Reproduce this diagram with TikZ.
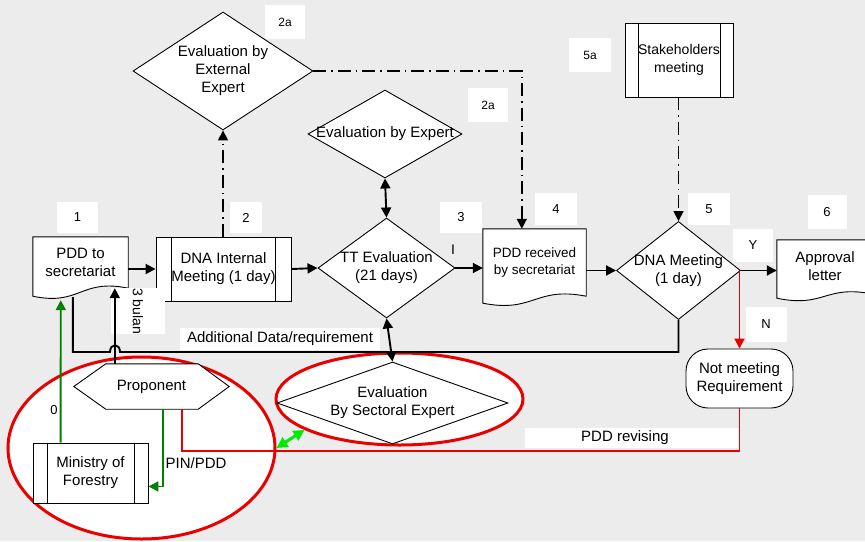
\documentclass[tikz,border=0pt]{standalone}
\usepackage{fontspec}
\setmainfont{Liberation Sans}
\usetikzlibrary{shapes.geometric,arrows.meta,calc,backgrounds}
\definecolor{bgc}{RGB}{236,236,236}
\definecolor{limec}{RGB}{0,235,0}
\definecolor{dgreen}{RGB}{0,128,0}
\definecolor{redc}{RGB}{235,0,0}
\newcommand\docoutline[3]{%
\draw[fill=white, line width=0.9pt] (#1.north west) -- (#1.north east) -- ($(#1.south east)+(0,#2)$)
 .. controls ($(#1.south)+(0,{#2-10})$) and ($(#1.south)+(0,{#3+10})$) .. ($(#1.south west)+(0,#3)$) -- cycle;}
\newcommand\hexoutline[1]{%
\draw[fill=white,line width=0.9pt] (#1.west) -- ($(#1.north west)+(32,0)$) -- ($(#1.north east)+(-31,0)$) -- (#1.east)
 -- ($(#1.south east)+(-31,0)$) -- ($(#1.south west)+(32,0)$) -- cycle;}
\newcommand\proclines[2]{%
\draw[line width=0.9pt] ($(#1.north west)+(#2,0)$) -- ($(#1.south west)+(#2,0)$)
 ($(#1.north east)+(-#2,0)$) -- ($(#1.south east)+(-#2,0)$);}
\begin{document}
\begin{tikzpicture}[x=1pt,y=-1pt,
  every node/.style={font=\fontsize{15}{18}\selectfont, align=center},
  proc/.style={draw, fill=white, line width=0.9pt, rectangle, inner sep=0pt},
  docn/.style={rectangle, inner sep=0pt},
  dia/.style={draw, fill=white, diamond, line width=0.9pt, inner sep=0pt},
  numlab/.style={fill=white, inner sep=0pt, font=\fontsize{13}{15}\selectfont},
  smalllab/.style={fill=white, inner sep=0pt, font=\fontsize{12}{14}\selectfont},
  conn/.style={line width=1.9pt, -{Triangle[length=10pt,width=10pt]}},
  dconn/.style={line width=1.9pt, {Triangle[length=10pt,width=10pt]}-{Triangle[length=10pt,width=10pt]}},
  dashconn/.style={line width=1.6pt, dash pattern=on 13pt off 5pt on 1.5pt off 5pt, -{Triangle[length=10pt,width=10pt]}},
  redconn/.style={line width=1.9pt, draw=redc, -{Triangle[length=10pt,width=10pt]}},
  redline/.style={line width=1.9pt, draw=redc},
  greenconn/.style={line width=1.9pt, draw=dgreen, -{Triangle[length=10pt,width=10pt]}},
  ring/.style={ellipse, draw=redc, line width=3pt, fill=white, inner sep=0pt}
]
\useasboundingbox (0,0) rectangle (865,541);

% main nodes
\node[docn, minimum width=95pt, minimum height=51pt] (pdd) at (80.5,262.5) {PDD to\\secretariat};
\node[proc, minimum width=135pt, minimum height=64pt] (dna) at (223.5,269) {DNA Internal\\Meeting (1 day)};
\node[dia, minimum width=137pt, minimum height=100pt, label=center:{TT Evaluation\\(21 days)}] (tt) at (386.5,268) {};
\node[docn, minimum width=103pt, minimum height=67pt, font=\fontsize{13.5}{17}\selectfont] (pddr) at (534.5,262.5) {PDD received\\by secretariat};
\node[dia, minimum width=124pt, minimum height=98pt, label=center:{DNA Meeting\\(1 day)}] (dnam) at (678.5,270.5) {};
\node[docn, minimum width=96pt, minimum height=52pt] (appr) at (825,266) {Approval\\letter};
\node[draw, fill=white, line width=0.9pt, rounded corners=22pt, minimum width=107pt, minimum height=59pt, inner sep=0pt] (nm) at (739.5,378.5) {Not meeting\\Requirement};
\node[dia, minimum width=180pt, minimum height=118pt, label=center:{Evaluation by\\External\\Expert}] (ext) at (223,71) {};
\node[dia, minimum width=154pt, minimum height=88pt, label=center:{Evaluation by Expert}] (ex) at (385,134) {};
\node[proc, minimum width=108pt, minimum height=74pt, font=\fontsize{14}{18}\selectfont] (stk) at (679,60) {Stakeholders\\meeting};
\node[docn, minimum width=155pt, minimum height=45pt] (prop) at (151.5,386.5) {Proponent};
\node[proc, minimum width=115pt, minimum height=60pt] (mof) at (90.5,473) {Ministry of\\Forestry};
\node[dia, minimum width=231pt, minimum height=82pt, label=center:{Evaluation\\By Sectoral Expert}] (sect) at (392.5,403) {};

\proclines{dna}{16}
\proclines{stk}{13.5}
\proclines{mof}{14.5}

% background layer: page, rings, outlines
\begin{scope}[on background layer]
\fill[bgc] (0,0) rectangle (865,541);
\node[ring, minimum width=267pt, minimum height=182pt] (ring1) at (141.5,448) {};
\node[ring, minimum width=247pt, minimum height=92pt] (ring2) at (399.5,399) {};
\docoutline{pdd}{0}{8}
\docoutline{pddr}{0}{7}
\docoutline{appr}{2}{6}
\hexoutline{prop}
\end{scope}

% labels
\node[numlab, minimum width=41pt, minimum height=31pt] (l1) at (77.5,217.5) {1};
\node[numlab, minimum width=32pt, minimum height=31pt] (l2) at (246,217.5) {2};
\node[numlab, minimum width=42pt, minimum height=31pt] (l3) at (461,217) {3};
\node[numlab, minimum width=42pt, minimum height=32pt] (l4) at (556,209) {4};
\node[numlab, minimum width=42pt, minimum height=32pt] (l5) at (709,209) {5};
\node[numlab, minimum width=39pt, minimum height=34pt] (l6) at (827,212) {6};
\node[numlab, minimum width=40pt, minimum height=33pt] (ly) at (753,245) {Y};
\node[numlab, minimum width=41pt, minimum height=35pt] (ln) at (766,324) {N};
\node[smalllab, minimum width=40pt, minimum height=34pt] (l2a) at (285,22) {2a};
\node[smalllab, minimum width=40pt, minimum height=34pt] (l2b) at (488,105) {2a};
\node[smalllab, minimum width=42pt, minimum height=34pt] (l5a) at (590,55) {5a};
\node[fill=white, inner sep=0pt, minimum width=200pt, minimum height=22pt] (ladd) at (280,339) {Additional Data/requirement};
\node[fill=white, inner sep=0pt, minimum width=215pt, minimum height=20pt] (lrev) at (632,438) {\hspace*{-14pt}PDD revising};
\node[fill=white, inner sep=0pt, minimum width=17pt, minimum height=54pt, rotate=-90, font=\fontsize{14}{16}\selectfont] (lbul) at (138,311) {3 bulan};
\node[inner sep=0pt, font=\fontsize{13}{15}\selectfont] (l0) at (54,410) {0};
\node[inner sep=0pt] (lpin) at (196,463) {PIN/PDD};
\node[inner sep=0pt, font=\fontsize{14}{16}\selectfont] (li) at (453,250) {I};

% main flow
\draw[conn] (pdd.east |- dna.west) -- (dna.west);
\draw[conn] (dna.east) -- (tt.west);
\draw[conn] (tt.east) -- (tt.east -| pddr.west);
\draw[conn] (pddr.east |- dnam.west) -- (dnam.west);
\draw[conn] (dnam.east) -- (dnam.east -| appr.west);
\draw[dconn] (ex.south) -- (tt.north);
\draw[dconn] (tt.south) -- (sect.north);

% dash-dot links
\draw[dashconn] (dna.north -| ext.south) -- (ext.south);
\draw[dashconn] (ext.east) -| ($(pddr.north west)+(39,0)$);
\draw[dashconn] (stk.south -| dnam.north) -- (dnam.north);

% additional data loop with hop
\coordinate (hopR) at (120,352);
\coordinate (hopL) at (110,352);
\draw[line width=1.9pt] (dnam.south) |- (hopR) .. controls +(0,-9) and +(0,-9) .. (hopL) -| ($(pdd.south west)+(40,9)$);

% proponent to PDD
\draw[conn] ($(prop.north west)+(41,0)$) -- ($(pdd.south west)+(82,0)$);

% red paths
\draw[redconn] (nm.north |- dnam.east) -- (nm.north);
\draw[redline] (nm.south) |- ($(prop.south west)+(108,42)$) -- ($(prop.south west)+(108,0)$);

% green paths
\draw[greenconn] ($(mof.north west)+(28,0)$) -- ($(pdd.south west)+(28,12)$);
\draw[greenconn] ($(prop.south west)+(89,0)$) |- ($(mof.south east)+(0,-17)$);
\draw[line width=3pt, draw=limec, {Triangle[length=11pt,width=11pt]}-{Triangle[length=11pt,width=11pt]}] (ring1.east) -- (ring2.198);

\end{tikzpicture}
\end{document}
